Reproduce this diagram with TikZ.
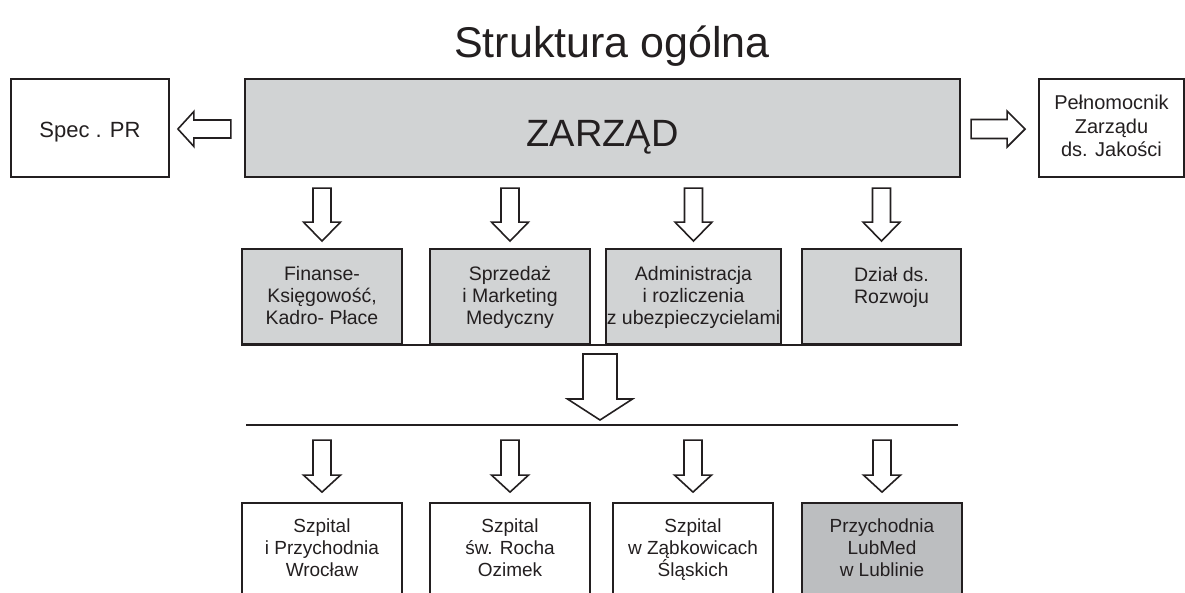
\documentclass[tikz,border=0pt]{standalone}
\usepackage{fontspec}
\setmainfont{Liberation Sans}
\usetikzlibrary{calc}
\definecolor{ink}{HTML}{231F20}
\definecolor{fillgray}{HTML}{D1D3D4}
\definecolor{fillgraydark}{HTML}{BCBEC0}
\newcommand\fZ{\fontsize{38}{44}\selectfont}
\newcommand\fA{\fontsize{22}{26}\selectfont}
\newcommand\fB{\fontsize{20}{23.5}\selectfont\lineskiplimit=-100pt}
\newcommand\fC{\fontsize{19.5}{22}\selectfont\lineskiplimit=-100pt}
\newcommand\fD{\fontsize{19}{22}\selectfont\lineskiplimit=-100pt}
% top-aligned box text: height, width, top pad, text
\newcommand\tbox[4]{\parbox[c][#1][t]{#2}{\centering\vspace*{#3}\strut#4\par}}
% block arrow: tip, rotation, length, head length, shaft half width, head half width
\newcommand\barrow[6]{%
  \begin{scope}[shift={#1}, rotate=#2]
    \draw[arr] (0,0) -- (-#4,#6) -- (-#4,#5) -- (-#3,#5) -- (-#3,-#5) -- (-#4,-#5) -- (-#4,-#6) -- cycle;
  \end{scope}}
\begin{document}
\begin{tikzpicture}[x=1pt,y=-1pt,
  box/.style={draw=ink, line width=1.8pt, inner sep=0pt, text=ink},
  arr/.style={draw=ink, line width=1.6pt, fill=white, line join=miter},
  rule/.style={draw=ink, line width=1.8pt}]
\useasboundingbox (0,0) rectangle (1185,592);
\clip (0,0) rectangle (1185,592);

\node[text=ink, font=\fontsize{43}{50}\selectfont, anchor=base, inner sep=0pt] (title) at (612,57) {Struktura ogólna};

% top row
\node[box, fill=fillgray, font=\fZ] (zarzad) at (602.5,128) {\tbox{98pt}{715pt}{36.2pt}{ZARZĄD}};
\node[box, font=\fA] (spec) at (90,128) {\tbox{98pt}{158pt}{39.8pt}{Spec . PR}};
\node[box, font=\fB] (pel) at (1111.5,128) {\tbox{98pt}{145pt}{14.5pt}{Pełnomocnik\\Zarządu\\ds. Jakości}};

% middle row
\node[box, fill=fillgray, font=\fC] (b1) at (322,296.5) {\tbox{95pt}{160pt}{15.6pt}{Finanse-\\Księgowość,\\Kadro- Płace}};
\node[box, fill=fillgray, font=\fC] (b2) at (510,296.5) {\tbox{95pt}{160pt}{15.6pt}{Sprzedaż\\i Marketing\\Medyczny}};
\node[box, fill=fillgray, font=\fC] (b3) at (693.5,296.5) {\tbox{95pt}{175pt}{15.6pt}{Administracja\\i rozliczenia\\z ubezpieczycielami}};
\node[box, fill=fillgray, font=\fC] (b4) at (881.5,296.5) {\tbox{95pt}{159pt}{17pt}{\hspace*{20pt}Dział ds.\\\hspace*{20pt}Rozwoju}};
\draw[rule] (b1.south west) -- (b4.south east);

% horizontal rule
\coordinate (hlL) at (246,425);
\coordinate (hlR) at (958,425);
\draw[rule] (hlL) -- (hlR);

% bottom row
\node[box, font=\fD] (s1) at (322,561.5) {\tbox{117pt}{160pt}{13.6pt}{Szpital\\i Przychodnia\\Wrocław}};
\node[box, font=\fD] (s2) at (510,561.5) {\tbox{117pt}{160pt}{13.6pt}{Szpital\\św. Rocha\\Ozimek}};
\node[box, font=\fD] (s3) at (693,561.5) {\tbox{117pt}{160pt}{13.6pt}{Szpital\\w Ząbkowicach\\Śląskich}};
\node[box, fill=fillgraydark, font=\fD] (s4) at (882,561.5) {\tbox{117pt}{160pt}{13.6pt}{Przychodnia\\LubMed\\w Lublinie}};

% arrows
\barrow{($(spec.east)+(8,1)$)}{180}{53}{16}{9}{17.5}
\barrow{($(pel.west)+(-13,1)$)}{0}{54}{18}{9.5}{18}
\foreach \n in {b1,b2,b3,b4}{\barrow{($(\n.north)+(0,-7)$)}{-90}{53}{19}{9}{18.5}}
\barrow{($(hlL)!0.5!(hlR)+(-2,-5)$)}{-90}{66}{21}{17}{32.5}
\foreach \n in {s1,s2,s3,s4}{\barrow{($(\n.north)+(0,-10)$)}{-90}{52}{17}{9}{18.5}}
\end{tikzpicture}
\end{document}
